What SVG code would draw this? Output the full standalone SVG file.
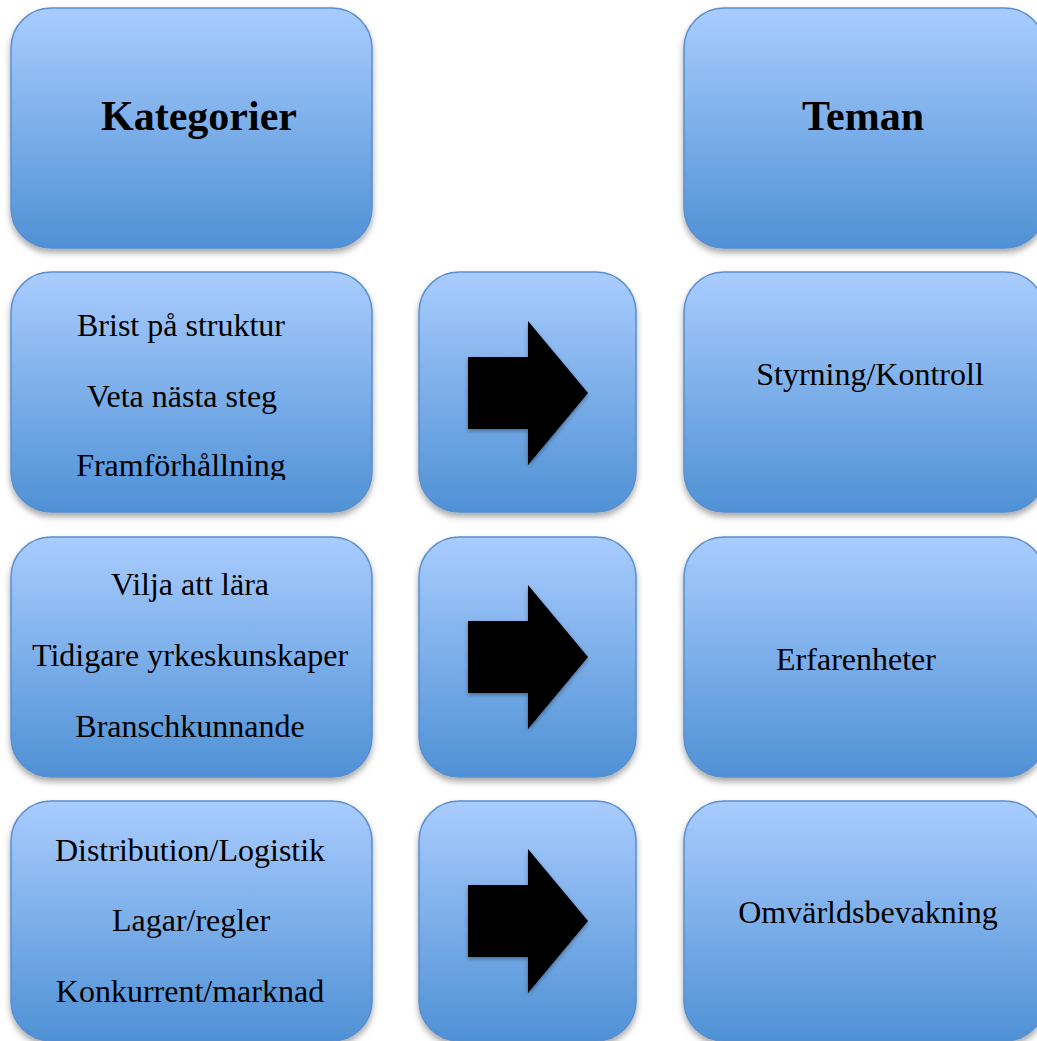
<svg xmlns="http://www.w3.org/2000/svg" width="1037" height="1041" viewBox="0 0 1037 1041">
<defs>
<linearGradient id="g" x1="0" y1="0" x2="0" y2="1">
<stop offset="0" stop-color="#a9ccfe"/>
<stop offset="1" stop-color="#4f91d5"/>
</linearGradient>
<filter id="sh" x="-10%" y="-10%" width="120%" height="125%">
<feDropShadow dx="0" dy="4" stdDeviation="3" flood-color="#000" flood-opacity="0.35"/>
</filter>
<filter id="ash" x="-20%" y="-20%" width="140%" height="140%">
<feDropShadow dx="0" dy="2" stdDeviation="2" flood-color="#000" flood-opacity="0.35"/>
</filter>
<clipPath id="c1"><rect x="0" y="272" width="400" height="208"/></clipPath>
</defs>
<style>
.box{fill:url(#g);stroke:#5a8ecd;stroke-width:1.5;filter:url(#sh)}
.t{font-family:"Liberation Serif","Times New Roman",serif;font-size:32px;fill:#000;text-anchor:middle}
.h{font-family:"Liberation Serif","Times New Roman",serif;font-size:42px;font-weight:bold;fill:#000;text-anchor:middle}
.arr{fill:#000;filter:url(#ash)}
</style>
<rect width="1037" height="1041" fill="#fff"/>
<g id="kategorier"><rect class="box" x="11" y="8" width="361" height="240" rx="40"/><text class="h" x="199" y="130">Kategorier</text></g>
<g id="teman"><rect class="box" x="684" y="8" width="361" height="240" rx="40"/><text class="h" x="863" y="130">Teman</text></g>
<g id="kat1"><rect class="box" x="11" y="272" width="361" height="240" rx="40"/>
<g clip-path="url(#c1)"><text class="t" x="181" y="336">Brist på struktur</text><text class="t" x="182" y="407">Veta nästa steg</text><text class="t" x="181" y="476">Framförhållning</text></g></g>
<g id="kat2"><rect class="box" x="11" y="537" width="361" height="240" rx="40"/>
<text class="t" x="190" y="595">Vilja att lära</text><text class="t" x="190" y="666">Tidigare yrkeskunskaper</text><text class="t" x="190" y="737">Branschkunnande</text></g>
<g id="kat3"><rect class="box" x="11" y="801" width="361" height="240" rx="40"/>
<text class="t" x="190" y="861">Distribution/Logistik</text><text class="t" x="191" y="931">Lagar/regler</text><text class="t" x="190" y="1002">Konkurrent/marknad</text></g>
<g id="pil1"><rect class="box" x="419" y="272" width="217" height="240" rx="40"/></g>
<g id="pil2"><rect class="box" x="419" y="537" width="217" height="240" rx="40"/></g>
<g id="pil3"><rect class="box" x="419" y="801" width="217" height="240" rx="40"/></g>
<g id="tema1"><rect class="box" x="684" y="272" width="361" height="240" rx="40"/><text class="t" x="870" y="385">Styrning/Kontroll</text></g>
<g id="tema2"><rect class="box" x="684" y="537" width="361" height="240" rx="40"/><text class="t" x="856" y="670">Erfarenheter</text></g>
<g id="tema3"><rect class="box" x="684" y="801" width="361" height="240" rx="40"/><text class="t" x="868" y="923">Omvärldsbevakning</text></g>
<g id="connectors">
<polygon class="arr" points="468,357 528,357 528,321 588,393 528,465 528,429 468,429"/>
<polygon class="arr" points="468,621 528,621 528,585 588,657 528,729 528,693 468,693"/>
<polygon class="arr" points="468,885 528,885 528,849 588,921 528,993 528,957 468,957"/>
</g>
</svg>
